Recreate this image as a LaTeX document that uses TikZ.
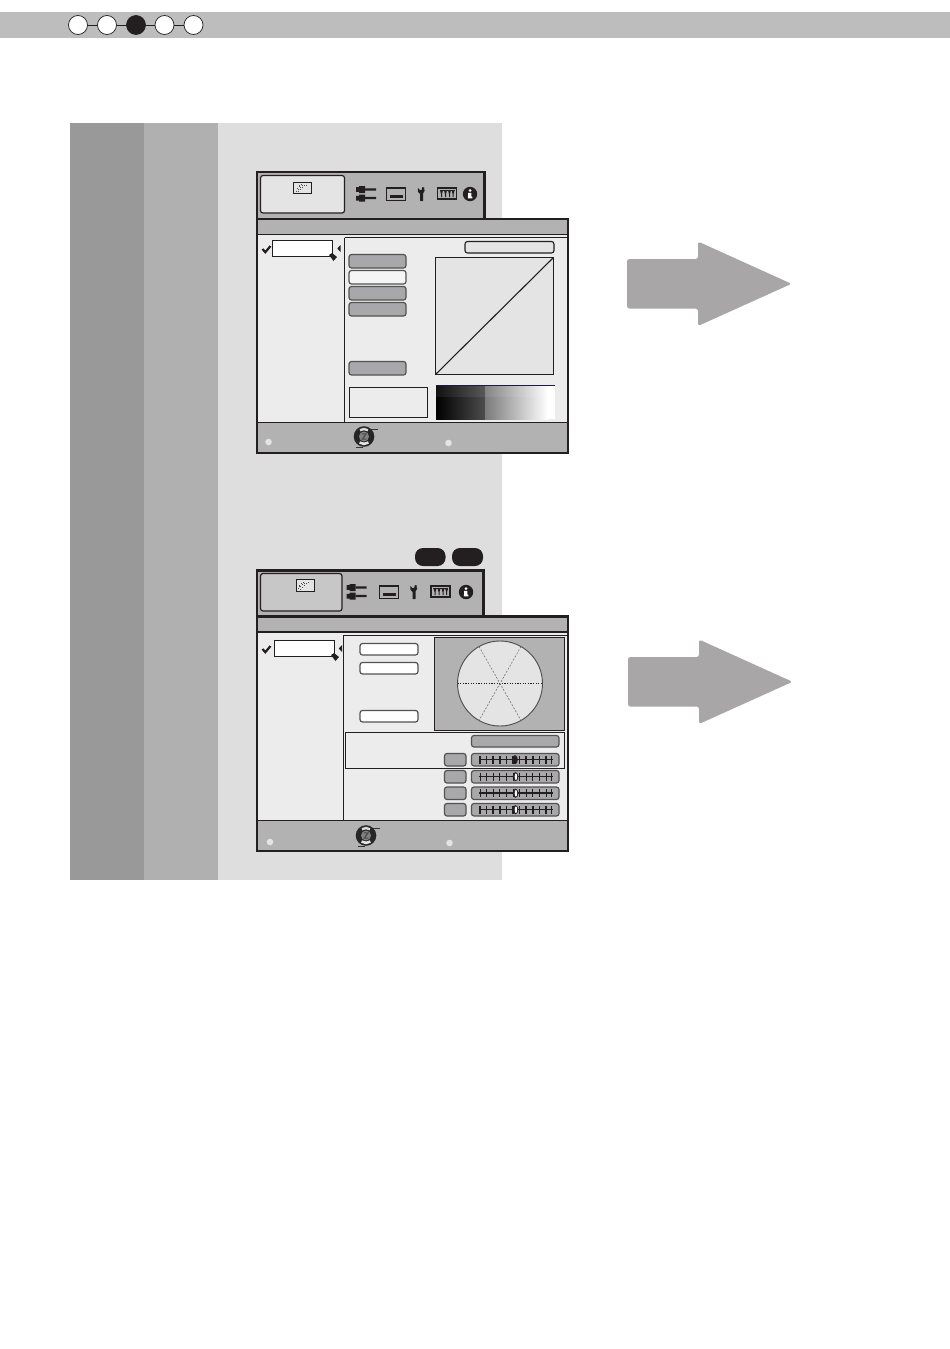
\documentclass[tikz,border=0pt]{standalone}
\usepackage{tikz}
\definecolor{bandc}{HTML}{BDBDBD}
\definecolor{colA}{HTML}{999999}
\definecolor{colB}{HTML}{B0B0B0}
\definecolor{colC}{HTML}{DEDEDE}
\definecolor{panelc}{HTML}{B2B2B2}
\definecolor{bodyc}{HTML}{ECECEC}
\definecolor{plotc}{HTML}{E4E4E4}
\definecolor{btnc}{HTML}{A8A8AA}
\definecolor{arrowc}{HTML}{A8A6A7}
\definecolor{pillc}{HTML}{231F20}
\tikzset{
  stepdot/.style={circle,draw=pillc,line width=0.7pt,fill=white,minimum size=19pt,inner sep=0pt},
  frameline/.style={draw=pillc,line width=2.2pt},
  thinline/.style={draw=pillc,line width=1pt},
  rbtn/.style={draw=black!68,line width=1.2pt,rounded corners=2.5pt},
  pill/.style={fill=pillc,rounded corners=8pt},
  bigarrow/.style={fill=arrowc,rounded corners=2.5pt},
}
\newcommand{\plugicon}[2]{%
  \begin{scope}[shift={(#1,#2)}]
    \fill[pillc] (0,0.6) rectangle (3.2,5.4) (3.2,-0.5) rectangle (9,6.5);
    \fill[pillc] (0,9.4) rectangle (3.2,14) (3.2,8.2) rectangle (9,15);
    \fill[pillc] (9,1.8) rectangle (20,4) (9,10.4) rectangle (20,12.6);
  \end{scope}}
\newcommand{\screenicon}[2]{%
  \begin{scope}[shift={(#1,#2)}]
    \draw[pillc,line width=1.2pt] (0,0) rectangle (19,12.3);
    \fill[pillc] (3,7) rectangle (16,9.8);
  \end{scope}}
\newcommand{\wrenchicon}[2]{%
  \begin{scope}[shift={(#1,#2)}]
    \fill[pillc,rounded corners=0.5pt] (-1.3,14.2) -- (-1.3,7) -- (-3.6,4.8) -- (-3.6,0.8) -- (-1.8,3) -- (0.2,3) -- (0.8,0) -- (3.3,0.8) -- (2.3,2) -- (3.4,3.4) -- (1.5,6.5) -- (1.5,14.2) -- cycle;
  \end{scope}}
\newcommand{\keyicon}[2]{%
  \begin{scope}[shift={(#1,#2)}]
    \draw[pillc,line width=1.2pt] (0,0) rectangle (19,11);
    \fill[pillc] (2,1.8) rectangle (17,3.2);
    \foreach \k in {4,8,12,15.6}{\fill[pillc] (\k-1.3,3) -- (\k+1.3,3) -- (\k+0.5,6) -- (\k+0.5,9) -- (\k-0.5,9) -- (\k-0.5,6) -- cycle;}
  \end{scope}}
\newcommand{\infoicon}[2]{%
  \fill[pillc] (#1,#2) circle (7.2);
  \fill[white] (#1,#2-3.5) circle (1.5);
  \fill[white] (#1-1.9,#2-1.2) rectangle (#1+1.4,#2+3) (#1-2.2,#2+2.6) rectangle (#1+2.4,#2+4.4);
}
\newcommand{\pictureicon}[2]{%
  \begin{scope}[shift={(#1,#2)}]
    \draw[pillc,line width=0.9pt,fill=plotc] (0,0) rectangle (18,11.5);
    \foreach \p/\q in {2/8.5,4/6.5,6/4.5,8/3,4/9,6/7,8/5,10/3,3/5.8,12/2.6,5/3.2,7/2}{\fill[black!70] (\p,\q) rectangle +(1.3,1.3);}
  \end{scope}}
\newcommand{\pointer}[4]{%
  \draw[pillc,line width=2.2pt] (#1,#2) -- (#1+2.8,#2+3.2) -- (#1+8,#2-3);
  \fill[pillc] (#3+2,#2-4) -- (#3+2,#2+3) -- (#3-1.2,#2-0.5) -- cycle;
  \fill[pillc] (#4-4,#2+6) -- (#4-1,#2+4) -- (#4+4,#2+8) -- (#4+0.5,#2+12) -- cycle;
}
\newcommand{\spiralicon}[2]{%
  \begin{scope}[shift={(#1,#2)}]
    \fill[black!85] (0,0) circle (10.3);
    \draw[white!85!black,line width=2.4pt] (-4,-6.3) arc (238:302:7.5);
    \draw[white!90!black,line width=2.6pt] (-4.4,6) arc (126:54:7.5);
    \fill[black!50] (0,0) circle (5);
    \draw[black!70,line width=1.1pt] (-2.2,-2.6) -- (2,-2.6) -- (-1.6,2.6) -- (2.4,2.6);
    \draw[black!80,line width=0.8pt] (7,-7.5) -- (14,-7.5);
    \draw[black!80,line width=0.8pt] (-8.5,11) -- (-1,11);
  \end{scope}}
% y, thumb x, tick width, thumb inner colour
\newcommand{\sliderbar}[4]{%
  \draw[rbtn,fill=btnc] (444.5,#1) rectangle (466,#1+12.5);
  \draw[rbtn,fill=btnc] (471.5,#1) rectangle (559,#1+12.5);
  \draw[pillc,line width=1.5pt] (478.5,#1+6.2) -- (552.5,#1+6.2);
  \foreach \t in {0,1,2,3,4,5,6,7,8,9,10}{
    \draw[pillc,line width=#3] (480+\t*6.6,#1+2.2) -- (480+\t*6.6,#1+10.3);}
  \draw[pillc,line width=1.4pt] (551.5,#1+2.2) -- (551.5,#1+10.3);
  \fill[pillc] (#2,#1+6.2) ellipse (2.8 and 4.6);
  \fill[#4] (#2+0.4,#1+6.2) ellipse (1.2 and 3.4);
}
\begin{document}
\begin{tikzpicture}[x=1pt,y=-1pt]
\useasboundingbox (0,0) rectangle (950,1349);
\fill[white] (0,0) rectangle (950,1349);
% top band with the five step dots
\fill[bandc] (0,12) rectangle (950,38);
\node[stepdot] (s1) at (78,25) {};
\node[stepdot] (s2) at (107,25) {};
\node[stepdot,fill=pillc] (s3) at (136,25) {};
\node[stepdot] (s4) at (164.5,25) {};
\node[stepdot] (s5) at (193.5,25) {};
\draw[pillc,line width=0.8pt] (s1) -- (s2) (s2) -- (s3) (s3) -- (s4) (s4) -- (s5);
% columns
\fill[colA] (70,123) rectangle (144,880);
\fill[colB] (144,123) rectangle (218,880);
\fill[colC] (218,123) rectangle (502,880);
% ---------- panel 1
\path[frameline,fill=panelc] (257,172) rectangle (484.5,219);
\path[frameline,fill=panelc] (257,219) rectangle (568,453);
\fill[bodyc] (258,235) rectangle (567,422);
\draw[pillc,line width=1.6pt] (257,234.4) -- (568,234.4);
\draw[thinline] (344.5,237.5) -- (567,237.5) (344.5,237.5) -- (344.5,422);
\draw[pillc,line width=1.3pt] (257,422.3) -- (568,422.3);
\draw[pillc,line width=1.2pt,fill=plotc,rounded corners=2.5pt] (260.5,175.5) rectangle (344.5,213);
\pictureicon{293.5}{182}
\plugicon{356}{186.5}
\screenicon{386.5}{188}
\wrenchicon{421.5}{187}
\keyicon{437.5}{188}
\infoicon{470}{194}
\draw[pillc,line width=1pt,fill=white] (272.5,240.5) rectangle (332.5,256.5);
\pointer{262.5}{249}{338.5}{333}
\draw[pillc,line width=1.1pt,fill=plotc,rounded corners=2.5pt] (465,241.5) rectangle (554,253);
\draw[rbtn,fill=btnc] (349,254.5) rectangle (406,268);
\draw[rbtn,fill=white!96!black] (349,270.5) rectangle (406,284);
\draw[rbtn,fill=btnc] (349,286.5) rectangle (406,300);
\draw[rbtn,fill=btnc] (349,302.5) rectangle (406,316);
\draw[rbtn,fill=btnc] (349,361.5) rectangle (406,375);
\draw[thinline,fill=plotc] (435.5,257.5) rectangle (553.5,374.5);
\draw[pillc,line width=1.1pt] (435.5,374.5) -- (553.5,257.5);
\draw[thinline] (349.5,387.5) rectangle (427.5,417.5);
\shade[left color=black,right color=black!70] (436,385.5) rectangle (485,419);
\shade[left color=black!52,right color=white] (485,385.5) rectangle (548,419);
\fill[white] (548,385.5) rectangle (555,419);
\fill[white,opacity=0.07] (436,386) rectangle (555,397);
\draw[pillc!85!blue,line width=0.8pt] (436,385.8) -- (555,385.8);
\fill[plotc] (268.5,442) circle (3.3) (448.5,443) circle (3.3);
\spiralicon{364}{436.5}
% ---------- panel 2
\fill[pill] (415,548) rectangle (445.5,566);
\fill[pill] (452,548) rectangle (483,566);
\path[frameline,fill=panelc] (257,570.5) rectangle (483.5,616.5);
\path[frameline,fill=panelc] (257,616.5) rectangle (568,851);
\fill[bodyc] (258,632) rectangle (567,820.5);
\draw[pillc,line width=1.6pt] (257,631.8) -- (568,631.8);
\draw[thinline] (343.5,635) -- (567,635) (343.5,635) -- (343.5,820.5);
\draw[pillc,line width=1.3pt] (257,820.6) -- (568,820.6);
\draw[pillc,line width=1.2pt,fill=black!22,rounded corners=2.5pt] (260.5,573.5) rectangle (342,611);
\pictureicon{296}{579.5}
\plugicon{346.5}{584.5}
\screenicon{379.5}{586}
\wrenchicon{414}{585}
\keyicon{431}{586}
\infoicon{466}{592}
\draw[pillc,line width=1pt,fill=white] (274.5,640.5) rectangle (334,656.5);
\pointer{262.5}{649}{340}{335}
\draw[rbtn,fill=white!96!plotc] (360,643.5) rectangle (418,655);
\draw[rbtn,fill=white!96!plotc] (360,662.5) rectangle (418,674);
\draw[rbtn,fill=white!96!plotc] (360,710.5) rectangle (418,722);
\draw[thinline,fill=panelc] (434.5,637.5) rectangle (564.5,730.5);
\draw[black!70,line width=0.9pt,fill=plotc] (500,683.5) circle (42.5);
\draw[pillc,line width=0.7pt,dash pattern=on 1.3pt off 1.3pt] (457.5,683.5) -- (542.5,683.5);
\draw[black!55,line width=0.6pt,dash pattern=on 2pt off 1.5pt] (479,646.5) -- (521,720.5) (521,646.5) -- (479,720.5);
\draw[thinline] (345.5,732.5) rectangle (564.5,768.5);
\draw[rbtn,fill=btnc] (471.5,735.5) rectangle (559,747);
\sliderbar{753.5}{515}{1.6pt}{pillc}
\sliderbar{770.5}{515.5}{0.9pt}{white}
\sliderbar{787}{515.5}{0.9pt}{white}
\sliderbar{803.5}{515.5}{1.6pt}{white}
\fill[plotc] (270,842) circle (3.3) (449.5,843) circle (3.3);
\spiralicon{366}{835.5}
% ---------- arrows
\path[bigarrow] (627,259) -- (698,259) -- (698,241.5) -- (791.5,283.8) -- (698,326) -- (698,308.5) -- (627,308.5) -- cycle;
\path[bigarrow] (628,657) -- (699,657) -- (699,639.5) -- (792.5,681.8) -- (699,724) -- (699,706.5) -- (628,706.5) -- cycle;
\end{tikzpicture}
\end{document}
